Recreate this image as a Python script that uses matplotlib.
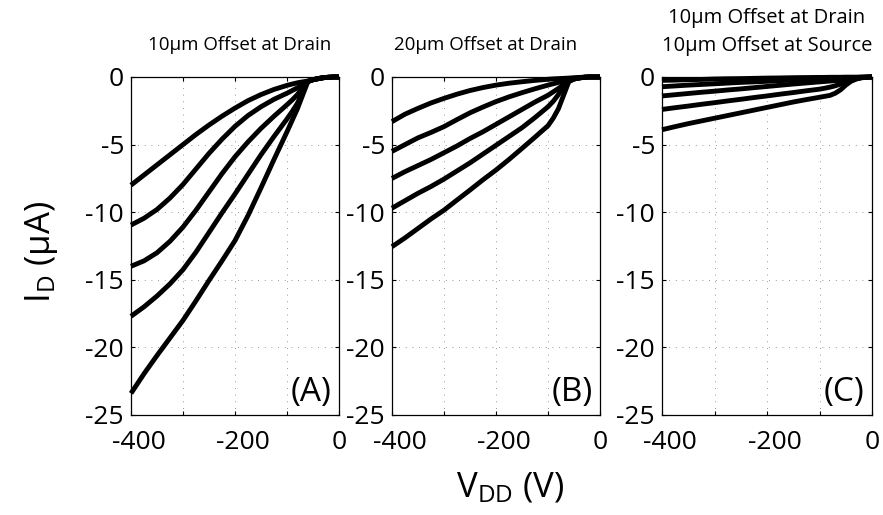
import matplotlib
matplotlib.use("Agg")
import matplotlib.pyplot as plt
from matplotlib.transforms import ScaledTranslation

plt.rcParams['font.family'] = ['Open Sans', 'DejaVu Sans']
plt.rcParams['mathtext.fontset'] = 'custom'
plt.rcParams['mathtext.rm'] = 'Open Sans'

# Drain voltage samples (V)
vdd = [-400, -375, -350, -325, -300, -275, -250, -225, -200, -175, -150, -125,
       -100, -90, -80, -70, -60, -50, -40, -30, -20, -10, 0]

# (A) 10um offset at drain: drain current (uA), one list per gate bias
a_curves = [
    [-8.0, -7.25, -6.5, -5.75, -5.0, -4.25, -3.55, -2.9, -2.3, -1.75, -1.3, -0.92,
     -0.62, -0.52, -0.43, -0.36, -0.3, -0.2, -0.12, -0.05, -0.02, 0.0, 0.0],
    [-10.95, -10.45, -9.8, -8.95, -7.95, -6.8, -5.65, -4.6, -3.65, -2.85, -2.2, -1.65,
     -1.2, -1.0, -0.8, -0.55, -0.32, -0.2, -0.12, -0.05, -0.02, 0.0, 0.0],
    [-14.0, -13.6, -13.0, -12.15, -11.1, -9.85, -8.5, -7.15, -5.9, -4.8, -3.8, -2.9,
     -2.05, -1.7, -1.3, -0.8, -0.33, -0.2, -0.12, -0.05, -0.02, 0.0, 0.0],
    [-17.7, -17.0, -16.2, -15.3, -14.25, -12.95, -11.5, -10.05, -8.65, -7.2, -5.75, -4.4,
     -3.1, -2.55, -1.95, -1.1, -0.33, -0.2, -0.12, -0.05, -0.02, 0.0, 0.0],
    [-23.4, -21.95, -20.6, -19.3, -18.0, -16.55, -15.05, -13.6, -12.1, -10.25, -8.2, -6.1,
     -4.05, -3.2, -2.35, -1.35, -0.35, -0.2, -0.12, -0.05, -0.02, 0.0, 0.0],
]

# (B) 20um offset at drain
b_curves = [
    [-3.3, -2.75, -2.32, -1.92, -1.58, -1.27, -1.0, -0.78, -0.6, -0.46, -0.35, -0.25,
     -0.17, -0.14, -0.12, -0.1, -0.08, -0.05, -0.03, -0.01, 0.0, 0.0, 0.0],
    [-5.5, -5.0, -4.5, -4.1, -3.67, -3.15, -2.65, -2.22, -1.82, -1.47, -1.16, -0.87,
     -0.6, -0.5, -0.4, -0.3, -0.2, -0.12, -0.06, -0.02, 0.0, 0.0, 0.0],
    [-7.5, -7.0, -6.55, -6.1, -5.6, -5.1, -4.55, -4.05, -3.5, -2.95, -2.4, -1.85,
     -1.35, -1.1, -0.85, -0.55, -0.25, -0.14, -0.07, -0.02, 0.0, 0.0, 0.0],
    [-9.7, -9.15, -8.6, -8.1, -7.55, -6.95, -6.35, -5.7, -5.05, -4.4, -3.75, -3.0,
     -2.2, -1.8, -1.3, -0.75, -0.3, -0.15, -0.07, -0.02, 0.0, 0.0, 0.0],
    [-12.55, -11.9, -11.2, -10.5, -9.85, -9.1, -8.36, -7.6, -6.88, -6.1, -5.28, -4.45,
     -3.6, -3.05, -2.35, -1.35, -0.35, -0.15, -0.07, -0.02, 0.0, 0.0, 0.0],
]

# (C) 10um offset at drain and at source
c_curves = [
    [-0.25, -0.23, -0.2, -0.18, -0.15, -0.13, -0.12, -0.1, -0.08, -0.07, -0.05, -0.04,
     -0.03, -0.03, -0.02, -0.02, -0.02, -0.01, -0.01, -0.01, 0.0, 0.0, 0.0],
    [-0.72, -0.66, -0.6, -0.55, -0.5, -0.45, -0.4, -0.36, -0.32, -0.27, -0.22, -0.18,
     -0.15, -0.13, -0.12, -0.11, -0.1, -0.08, -0.06, -0.04, -0.02, -0.01, 0.0],
    [-1.4, -1.31, -1.22, -1.13, -1.05, -0.96, -0.88, -0.79, -0.7, -0.61, -0.52, -0.44,
     -0.36, -0.33, -0.3, -0.27, -0.23, -0.16, -0.11, -0.07, -0.03, -0.01, 0.0],
    [-2.4, -2.27, -2.15, -2.02, -1.9, -1.77, -1.65, -1.52, -1.4, -1.27, -1.15, -1.02,
     -0.9, -0.83, -0.75, -0.65, -0.52, -0.38, -0.25, -0.13, -0.05, -0.01, 0.0],
    [-3.9, -3.67, -3.45, -3.25, -3.05, -2.85, -2.65, -2.45, -2.25, -2.05, -1.85, -1.67,
     -1.5, -1.43, -1.36, -1.2, -0.95, -0.6, -0.32, -0.15, -0.06, -0.02, 0.0],
]

titles = ["10\u03bcm Offset at Drain",
          "20\u03bcm Offset at Drain",
          "10\u03bcm Offset at Drain\n10\u03bcm Offset at Source"]
panel_tags = ["(A)", "(B)", "(C)"]
x_ticks = [-400, -300, -200, -100, 0]
x_tick_labels = ["-400", "", "-200", "", "0"]
y_ticks = [0, -5, -10, -15, -20, -25]
y_tick_labels = ["0", "-5", "-10", "-15", "-20", "-25"]

W, H = 883, 515
fig = plt.figure(figsize=(W / 100, H / 100), dpi=100)


def px_rect(x0, y0, x1, y1):
    return [x0 / W, 1 - y1 / H, (x1 - x0) / W, (y1 - y0) / H]


rects = [px_rect(131, 77, 339, 415),
         px_rect(392, 77, 600, 415),
         px_rect(662, 77, 872, 415)]

for rect, curves, tag in zip(rects, [a_curves, b_curves, c_curves], panel_tags):
    ax = fig.add_axes(rect)
    for ys in curves:
        ax.plot(vdd, ys, color='black', lw=3.5, solid_capstyle='butt',
                solid_joinstyle='round', clip_on=False, zorder=3)
    ax.set_xlim(-400, 0)
    ax.set_ylim(-25, 0)
    ax.set_xticks(x_ticks)
    ax.set_xticklabels(x_tick_labels)
    ax.set_yticks(y_ticks)
    ax.set_yticklabels(y_tick_labels)
    ax.tick_params(direction='in', length=3, width=0.8, top=True, right=True,
                   labelsize=19)
    ax.tick_params(axis='x', pad=11)
    ax.tick_params(axis='y', pad=5)
    # negative x labels sit a little right of their ticks
    for lab in ax.get_xticklabels():
        if lab.get_text().startswith('-'):
            lab.set_transform(lab.get_transform() +
                              ScaledTranslation(0.08, 0, fig.dpi_scale_trans))
    ax.grid(True, linestyle=(0, (1, 7)), color='0.45', lw=0.6)
    for s in ax.spines.values():
        s.set_linewidth(0.9)
    ax.text(0.965, 0.018, tag, transform=ax.transAxes, ha='right', va='bottom',
            fontsize=24)

fig.text(240 / W, 1 - 45 / H, titles[0], ha='center', va='center', fontsize=13.5)
fig.text(486 / W, 1 - 45 / H, titles[1], ha='center', va='center', fontsize=13.5)
fig.text(767 / W, 1 - 32 / H, titles[2], ha='center', va='center', fontsize=14.5,
         linespacing=1.55)

fig.text(510 / W, 1 - 488 / H, "$\\mathregular{V_{DD}}$ (V)", ha='center',
         va='center', fontsize=25)
fig.text(42 / W, 1 - 252 / H, "$\\mathregular{I_D}$ (\u03bcA)", ha='center',
         va='center', fontsize=25, rotation=90)

fig.savefig("out.png", dpi=100)
